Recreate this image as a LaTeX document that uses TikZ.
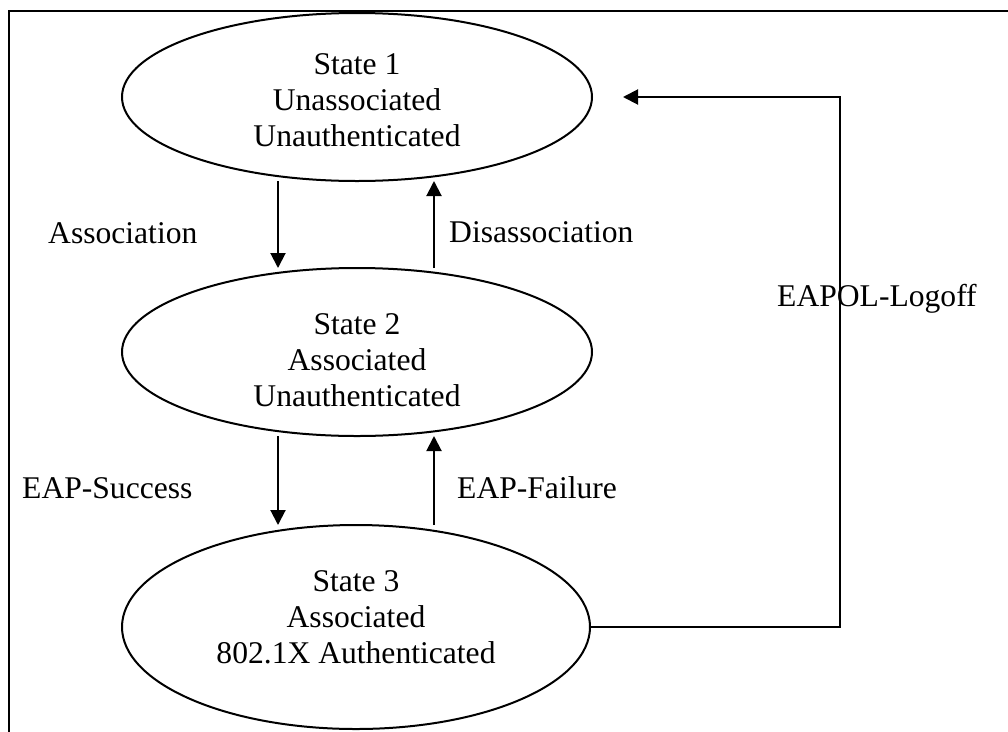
\documentclass[tikz,border=0pt]{standalone}
\usepackage{fontspec}
\setmainfont{Liberation Serif}
\usetikzlibrary{shapes.geometric,arrows.meta}

\tikzset{
  statebox/.style={draw=black, line width=2pt, shape=ellipse, inner sep=0pt, outer sep=0pt},
  statetext/.style={inner sep=0pt, align=center},
  edgelabel/.style={inner sep=0pt},
  arr/.style={draw=black, line width=2pt, -{Triangle[length=15pt,width=15pt]}},
  frameline/.style={draw=black, line width=2pt}
}

\begin{document}
\begin{tikzpicture}[x=1pt, y=-1pt, font=\fontsize{31.6pt}{36pt}\selectfont]
  \useasboundingbox (0,0) rectangle (1008,731);
  \clip (0,0) rectangle (1008,731);

  % surrounding frame (only the top and left sides fall inside the page)
  \draw[frameline] (9,760) -- (9,10.5) -- (1030,10.5);

  % the three states
  \node[statebox, minimum width=470pt, minimum height=168pt] (e1) at (357,97) {};
  \node[statebox, minimum width=470pt, minimum height=168pt] (e2) at (357,352) {};
  \node[statebox, minimum width=468pt, minimum height=204pt] (e3) at (356,627) {};

  \node[statetext] (t1) at (357,100) {State 1\\Unassociated\\Unauthenticated};
  \node[statetext] (t2) at (357,360) {State 2\\Associated\\Unauthenticated};
  \node[statetext] (t3) at (356,617) {State 3\\Associated\\802.1X Authenticated};

  % x positions of the vertical transitions
  \coordinate (downx) at (278,0);
  \coordinate (upx) at (434,0);

  % transitions between neighbouring states
  \draw[arr] (e1.south -| downx) -- (e2.north -| downx);
  \draw[arr] (e2.north -| upx) -- (e1.south -| upx);
  \draw[arr] (e2.south -| downx) -- (e3.north -| downx);
  \draw[arr] (e3.north -| upx) -- (e2.south -| upx);

  % logoff path back to state 1
  \coordinate (rail) at (840,97);
  \coordinate (logofftip) at (623,97);
  \draw[arr] (e3.east) -| (rail) |- (logofftip);

  % transition labels
  \node[edgelabel, anchor=base west] (lassoc) at (48,243) {Association};
  \node[edgelabel, anchor=base west] (ldisassoc) at (449,242) {Disassociation};
  \node[edgelabel, anchor=base west] (lsuccess) at (22,498) {EAP-Success};
  \node[edgelabel, anchor=base west] (lfailure) at (457,498) {EAP-Failure};
  \node[edgelabel, anchor=base west] (llogoff) at (777,306) {EAPOL-Logoff};
\end{tikzpicture}
\end{document}
